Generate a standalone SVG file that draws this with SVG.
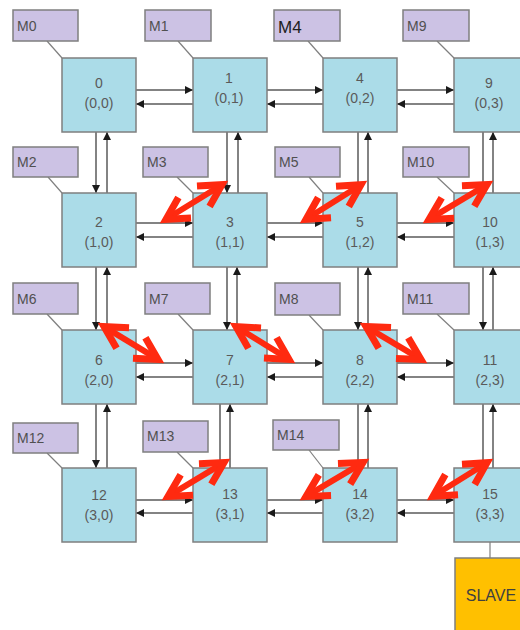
<svg xmlns="http://www.w3.org/2000/svg" width="520" height="630" viewBox="0 0 520 630">
<style>
.node rect{fill:#ABDCE8;stroke:#7F7F7F;stroke-width:1.5}
.node text{font-family:"Liberation Sans",Arial,sans-serif;font-size:14px;fill:#5A5A5A;text-anchor:middle}
.mlab rect{fill:#CCC2E4;stroke:#7F7F7F;stroke-width:1.5}
.mlab text{font-family:"Liberation Sans",Arial,sans-serif;font-size:14px;fill:#505050}
.ar{fill:none;stroke:#5A5A5A;stroke-width:1.5;marker-end:url(#bh)}
.ml{fill:none;stroke:#7F7F7F;stroke-width:1.2}
.red{fill:none;stroke:#FF2A10;stroke-width:6;marker-start:url(#rh);marker-end:url(#rh)}
</style>
<defs>
<marker id="bh" markerUnits="userSpaceOnUse" markerWidth="8" markerHeight="8" viewBox="0 0 7 7" refX="7" refY="3.5" orient="auto"><path d="M0,0 L7,3.5 L0,7 z" fill="#1A1A1A"/></marker>
<marker id="rh" markerUnits="userSpaceOnUse" markerWidth="44" markerHeight="44" viewBox="-32 -22 44 44" refX="0" refY="0" orient="auto-start-reverse" overflow="visible"><path d="M-22,-12 L0,0 L-22,12" fill="none" stroke="#FF2A10" stroke-width="7"/></marker>
</defs>
<rect width="520" height="630" fill="#FFFFFF"/>

<g id="connectors">
<path class="ml" d="M47,41 L62,58"/>
<path class="ml" d="M178,41 L193,58"/>
<path class="ml" d="M308,41 L323,58"/>
<path class="ml" d="M437,41 L454,58"/>
<path class="ml" d="M48,177 L62,193"/>
<path class="ml" d="M177,177 L193,193"/>
<path class="ml" d="M309,177 L323,193"/>
<path class="ml" d="M437,177 L454,193"/>
<path class="ml" d="M47,314 L62,330"/>
<path class="ml" d="M178,314 L193,330"/>
<path class="ml" d="M309,315 L323,330"/>
<path class="ml" d="M437,314 L454,330"/>
<path class="ml" d="M47,453 L62,468"/>
<path class="ml" d="M177,452 L193,468"/>
<path class="ml" d="M309,450 L323,468"/>
<path class="ml" d="M490,542 V558"/>
<path class="ar" d="M136,90 H193"/><path class="ar" d="M193,104 H136"/>
<path class="ar" d="M267,90 H323"/><path class="ar" d="M323,104 H267"/>
<path class="ar" d="M397,90 H454"/><path class="ar" d="M454,104 H397"/>
<path class="ar" d="M136,223 H193"/><path class="ar" d="M193,237 H136"/>
<path class="ar" d="M267,223 H323"/><path class="ar" d="M323,237 H267"/>
<path class="ar" d="M397,223 H454"/><path class="ar" d="M454,237 H397"/>
<path class="ar" d="M136,363 H193"/><path class="ar" d="M193,377 H136"/>
<path class="ar" d="M267,363 H323"/><path class="ar" d="M323,377 H267"/>
<path class="ar" d="M397,363 H454"/><path class="ar" d="M454,377 H397"/>
<path class="ar" d="M136,500 H193"/><path class="ar" d="M193,513 H136"/>
<path class="ar" d="M267,500 H323"/><path class="ar" d="M323,513 H267"/>
<path class="ar" d="M397,500 H454"/><path class="ar" d="M454,513 H397"/>
<path class="ar" d="M96,132 V193"/><path class="ar" d="M107,193 V132"/>
<path class="ar" d="M96,267 V330"/><path class="ar" d="M107,330 V267"/>
<path class="ar" d="M96,404 V468"/><path class="ar" d="M107,468 V404"/>
<path class="ar" d="M227,132 V193"/><path class="ar" d="M238,193 V132"/>
<path class="ar" d="M227,267 V330"/><path class="ar" d="M237,330 V267"/>
<path class="ar" d="M220,404 V468"/><path class="ar" d="M230,468 V404"/>
<path class="ar" d="M358,132 V193"/><path class="ar" d="M368,193 V132"/>
<path class="ar" d="M358,267 V330"/><path class="ar" d="M368,330 V267"/>
<path class="ar" d="M358,404 V468"/><path class="ar" d="M368,468 V404"/>
<path class="ar" d="M483,132 V193"/><path class="ar" d="M493,193 V132"/>
<path class="ar" d="M483,267 V330"/><path class="ar" d="M493,330 V267"/>
<path class="ar" d="M483,404 V468"/><path class="ar" d="M493,468 V404"/>
</g>

<g id="n0" class="node"><rect x="62" y="58" width="74" height="74"/><text x="99" y="88">0</text><text x="99" y="108">(0,0)</text></g>
<g id="n1" class="node"><rect x="193" y="58" width="74" height="74"/><text x="229" y="83">1</text><text x="229" y="103">(0,1)</text></g>
<g id="n4" class="node"><rect x="323" y="58" width="74" height="74"/><text x="360" y="83">4</text><text x="360" y="103">(0,2)</text></g>
<g id="n9" class="node"><rect x="454" y="58" width="74" height="74"/><text x="489" y="88">9</text><text x="489" y="108">(0,3)</text></g>
<g id="n2" class="node"><rect x="62" y="193" width="74" height="74"/><text x="99" y="227">2</text><text x="99" y="247">(1,0)</text></g>
<g id="n3" class="node"><rect x="193" y="193" width="74" height="74"/><text x="230" y="227">3</text><text x="230" y="247">(1,1)</text></g>
<g id="n5" class="node"><rect x="323" y="193" width="74" height="74"/><text x="360" y="227">5</text><text x="360" y="247">(1,2)</text></g>
<g id="n10" class="node"><rect x="454" y="193" width="74" height="74"/><text x="490" y="227">10</text><text x="490" y="247">(1,3)</text></g>
<g id="n6" class="node"><rect x="62" y="330" width="74" height="74"/><text x="99" y="365">6</text><text x="99" y="385">(2,0)</text></g>
<g id="n7" class="node"><rect x="193" y="330" width="74" height="74"/><text x="230" y="365">7</text><text x="230" y="385">(2,1)</text></g>
<g id="n8" class="node"><rect x="323" y="330" width="74" height="74"/><text x="360" y="365">8</text><text x="360" y="385">(2,2)</text></g>
<g id="n11" class="node"><rect x="454" y="330" width="74" height="74"/><text x="490" y="365">11</text><text x="490" y="385">(2,3)</text></g>
<g id="n12" class="node"><rect x="62" y="468" width="74" height="74"/><text x="99" y="500">12</text><text x="99" y="520">(3,0)</text></g>
<g id="n13" class="node"><rect x="193" y="468" width="74" height="74"/><text x="230" y="499">13</text><text x="230" y="519">(3,1)</text></g>
<g id="n14" class="node"><rect x="323" y="468" width="74" height="74"/><text x="360" y="499">14</text><text x="360" y="519">(3,2)</text></g>
<g id="n15" class="node"><rect x="454" y="468" width="74" height="74"/><text x="490" y="499">15</text><text x="490" y="519">(3,3)</text></g>

<g id="slave"><rect x="455" y="558" width="80" height="80" fill="#FFC000" stroke="#7F7F7F" stroke-width="1.5"/><text x="491" y="601" font-family="'Liberation Sans',Arial,sans-serif" font-size="16" fill="#404040" text-anchor="middle">SLAVE</text></g>

<g id="m0" class="mlab"><rect x="13" y="10" width="65" height="31"/><text x="17" y="31">M0</text></g>
<g id="m1" class="mlab"><rect x="145" y="10" width="66" height="31"/><text x="149" y="31">M1</text></g>
<g id="m4" class="mlab"><rect x="274" y="10" width="66" height="31"/><text x="278" y="33" style="font-size:17px;fill:#202020">M4</text></g>
<g id="m9" class="mlab"><rect x="403" y="10" width="66" height="31"/><text x="407" y="31">M9</text></g>
<g id="m2" class="mlab"><rect x="13" y="147" width="65" height="30"/><text x="17" y="167">M2</text></g>
<g id="m3" class="mlab"><rect x="143" y="147" width="65" height="30"/><text x="147" y="167">M3</text></g>
<g id="m5" class="mlab"><rect x="275" y="147" width="65" height="30"/><text x="279" y="167">M5</text></g>
<g id="m10" class="mlab"><rect x="403" y="147" width="66" height="30"/><text x="407" y="167">M10</text></g>
<g id="m6" class="mlab"><rect x="13" y="283" width="65" height="31"/><text x="17" y="304">M6</text></g>
<g id="m7" class="mlab"><rect x="145" y="283" width="65" height="31"/><text x="149" y="304">M7</text></g>
<g id="m8" class="mlab"><rect x="275" y="283" width="65" height="32"/><text x="279" y="304">M8</text></g>
<g id="m11" class="mlab"><rect x="403" y="283" width="66" height="31"/><text x="407" y="304">M11</text></g>
<g id="m12" class="mlab"><rect x="13" y="423" width="65" height="30"/><text x="17" y="443">M12</text></g>
<g id="m13" class="mlab"><rect x="143" y="421" width="65" height="31"/><text x="147" y="441">M13</text></g>
<g id="m14" class="mlab"><rect x="273" y="420" width="66" height="30"/><text x="277" y="440">M14</text></g>

<g id="red-arrows">
<path class="red" d="M166,219.3 L222,184.7"/>
<path class="red" d="M306,219.3 L361,184.7"/>
<path class="red" d="M429,219.4 L487,184.6"/>
<path class="red" d="M104,326.6 L158,359.4"/>
<path class="red" d="M236,326.6 L289,359.4"/>
<path class="red" d="M366,326.6 L421,359.4"/>
<path class="red" d="M168,496.4 L224,462.6"/>
<path class="red" d="M306,496.4 L363,462.6"/>
<path class="red" d="M433,496.3 L487,462.7"/>
</g>
</svg>
